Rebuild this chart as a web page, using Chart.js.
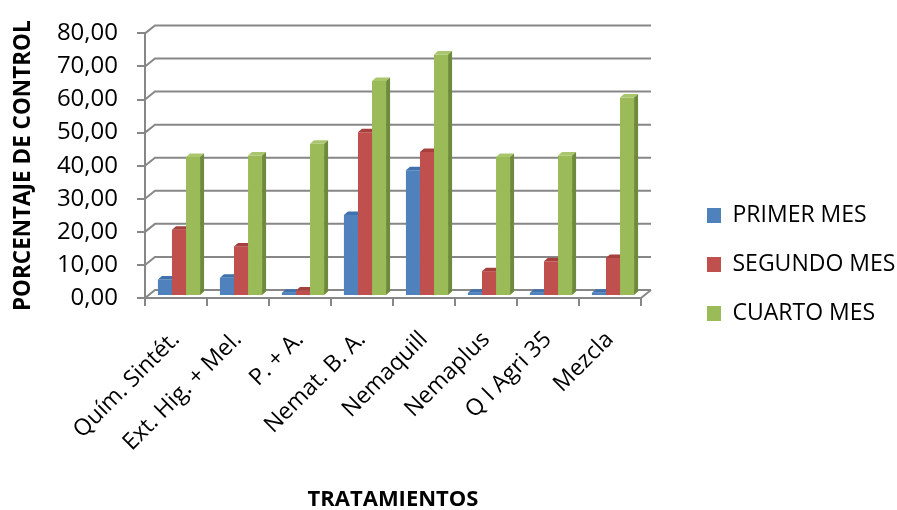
<!DOCTYPE html>
<html>
<head>
<meta charset="utf-8">
<script src="https://cdn.jsdelivr.net/npm/chart.js@4.4.1/dist/chart.umd.min.js"></script>
<style>
    html, body { margin: 0; padding: 0; background: #fff; }
</style>
</head>
<body>
<canvas id="controlChart" width="897" height="510"></canvas>
<script>
// Datos
const tratamientos = ['Quím. Sintét.', 'Ext. Hig. + Mel.', 'P. + A.', 'Nemat. B. A.', 'Nemaquill', 'Nemaplus', 'Q I Agri 35', 'Mezcla'];
const series = ['PRIMER MES', 'SEGUNDO MES', 'CUARTO MES'];
const primerMes = [5, 5.5, 1, 24.5, 38, 1, 1, 1];
const segundoMes = [20, 15, 1.7, 49.5, 43.5, 7.5, 10.5, 11.5];
const cuartoMes = [42, 42.5, 46, 65, 73, 42, 42.5, 60];
const yMin = 0, yMax = 80, yPaso = 10;

const GRIS = '#878787';
const FUENTE = 'Open Sans';
// colores: frente, cara superior, cara lateral
const tonos = [
    { frente: '#4F81BD', sup: '#4072AE', lat: '#385D8A' },
    { frente: '#C0504D', sup: '#A6403D', lat: '#8C3836' },
    { frente: '#9BBB59', sup: '#A9C66C', lat: '#6E8A3C' }
];
const FONDO_X = 10, FONDO_Y = -8;   // profundidad de la pared del fondo
const BARRA_X = 3, BARRA_Y = -2;    // posición de las columnas en profundidad
const CARA_X = 4, CARA_Y = -3.5;    // grosor de las columnas

// Efecto 3D tipo Excel
const efecto3d = {
    id: 'efecto3d',
    afterLayout(chart) {
        // colocar la leyenda a la derecha como en el original
        const lg = chart.legend;
        lg.left = 681;
        lg.right = 897;
        lg.top = 178;
        lg.bottom = 510;
    },
    beforeDatasetsDraw(chart) {
        const { ctx, chartArea: a, scales: { y } } = chart;
        ctx.save();
        ctx.strokeStyle = GRIS;
        ctx.lineWidth = 2;
        y.ticks.forEach(t => {
            const py = y.getPixelForValue(t.value);
            ctx.beginPath();
            ctx.moveTo(a.left, py);
            ctx.lineTo(a.left + FONDO_X, py + FONDO_Y);
            ctx.lineTo(a.right + FONDO_X, py + FONDO_Y);
            ctx.stroke();
        });
        const y0 = y.getPixelForValue(0);
        ctx.beginPath();
        ctx.moveTo(a.right, y0);
        ctx.lineTo(a.right + FONDO_X, y0 + FONDO_Y);
        ctx.stroke();
        ctx.restore();
    },
    beforeDatasetDraw() {
        // las columnas se dibujan abajo, en orden de izquierda a derecha
        return false;
    },
    afterDatasetsDraw(chart) {
        const ctx = chart.ctx;
        const metas = chart.data.datasets.map((d, i) => chart.getDatasetMeta(i));
        ctx.save();
        ctx.translate(BARRA_X, BARRA_Y);
        for (let i = 0; i < tratamientos.length; i++) {
            metas.forEach((meta, d) => {
                const barra = meta.data[i];
                const { x, y, base, width } = barra.getProps(['x', 'y', 'base', 'width'], true);
                const izq = x - width / 2, der = x + width / 2;
                barra.draw(ctx);
                ctx.fillStyle = tonos[d].sup;
                ctx.beginPath();
                ctx.moveTo(izq, y);
                ctx.lineTo(der, y);
                ctx.lineTo(der + CARA_X, y + CARA_Y);
                ctx.lineTo(izq + CARA_X, y + CARA_Y);
                ctx.closePath();
                ctx.fill();
                ctx.fillStyle = tonos[d].lat;
                ctx.beginPath();
                ctx.moveTo(der, y);
                ctx.lineTo(der + CARA_X, y + CARA_Y);
                ctx.lineTo(der + CARA_X, base + CARA_Y);
                ctx.lineTo(der, base);
                ctx.closePath();
                ctx.fill();
            });
        }
        ctx.restore();
    }
};

const valores = [primerMes, segundoMes, cuartoMes];

const ctx = document.getElementById('controlChart').getContext('2d');
const controlChart = new Chart(ctx, {
    type: 'bar',
    data: {
        labels: tratamientos,
        datasets: series.map((nombre, d) => ({
            label: nombre,
            data: valores[d],
            backgroundColor: tonos[d].frente,
            borderWidth: 0,
            categoryPercentage: 0.68,
            barPercentage: 1.0
        }))
    },
    options: {
        responsive: false,
        animation: false,
        devicePixelRatio: 1,
        layout: { padding: { top: 23, right: 56, bottom: 0, left: 0 } },
        scales: {
            x: {
                grid: { display: true, drawOnChartArea: false, tickLength: 8, color: GRIS, lineWidth: 2, offset: true },
                border: { display: true, color: GRIS, width: 2 },
                ticks: {
                    autoSkip: false,
                    minRotation: 45,
                    maxRotation: 45,
                    padding: 20,
                    color: '#000',
                    font: { family: FUENTE, size: 23 }
                },
                title: {
                    display: true,
                    text: 'TRATAMIENTOS',
                    color: '#000',
                    font: { family: FUENTE, size: 22, weight: 'bold' },
                    padding: { top: 0, bottom: -3 }
                },
                afterFit(scale) { scale.height = 212; }
            },
            y: {
                min: yMin,
                max: yMax,
                grid: { display: true, drawOnChartArea: false, tickLength: 8, color: GRIS, lineWidth: 2 },
                border: { display: true, color: GRIS, width: 2 },
                ticks: {
                    stepSize: yPaso,
                    padding: 19,
                    color: '#000',
                    font: { family: FUENTE, size: 24 },
                    callback: v => v.toFixed(2).replace('.', ',')
                },
                title: {
                    display: true,
                    text: 'PORCENTAJE DE CONTROL',
                    color: '#000',
                    font: { family: FUENTE, size: 22.5, weight: 'bold' },
                    padding: { top: 10, bottom: 0 }
                },
                afterFit(scale) { scale.width = 145; }
            }
        },
        plugins: {
            legend: {
                position: 'right',
                align: 'start',
                maxWidth: 200,
                labels: {
                    boxWidth: 14,
                    boxHeight: 15,
                    padding: 26,
                    color: '#000',
                    font: { family: FUENTE, size: 23 },
                    sort: (a, b) => a.datasetIndex - b.datasetIndex
                }
            },
            tooltip: { enabled: false }
        }
    },
    plugins: [efecto3d]
});
</script>
</body>
</html>
